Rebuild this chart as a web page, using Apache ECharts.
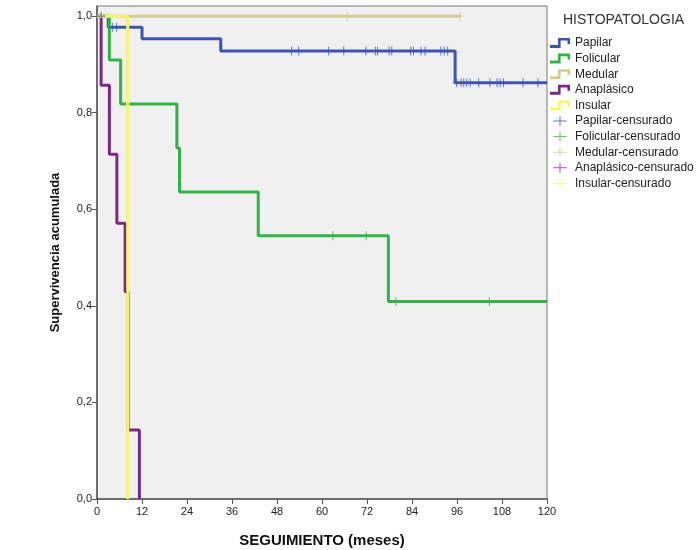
<!DOCTYPE html>
<html>
<head>
<meta charset="utf-8">
<script src="https://cdn.jsdelivr.net/npm/echarts@6/dist/echarts.min.js"></script>
<style>
  html, body { margin: 0; padding: 0; background: #fff; }
  #chart { width: 698px; height: 550px; }
</style>
</head>
<body>
<div id="chart"></div>
<script>
// Kaplan-Meier steps: [meses, supervivencia tras el evento]
var papilar = [[0, 1], [3, 0.977], [12, 0.953], [33, 0.928], [95.5, 0.862], [120, 0.862]];
var folicular = [[0, 1], [3.3, 0.909], [6.3, 0.818], [21.3, 0.727], [22, 0.636], [43, 0.545], [77.7, 0.409], [120, 0.409]];
var medular = [[0, 1], [97, 1]];
var anaplasico = [[0, 1], [1.1, 0.857], [3.3, 0.714], [5.3, 0.571], [7.5, 0.429], [8.3, 0.143], [11.3, 0]];
var insular = [[0, 1], [8.2, 1], [8.2, 0]];

// censored cases (months)
var papilarCens = [1.1, 4.1, 5.2, 51.9, 53.8, 61.8, 65.8, 71.7, 74.2, 74.8, 77.9, 78.6, 83.7, 84.4,
    86.4, 87.5, 91.7, 92.6, 93.5, 95.9, 97.1, 97.8, 98.6, 99.5, 101.8, 104.8, 106.7, 107.5, 108.4, 113.6, 117.6];
var folicularCens = [62.9, 71.8, 79.7, 104.6];
var medularCens = [66.7, 96.8];
var anaplasicoCens = [];
var insularCens = [];

var yTicks = [0, 0.2, 0.4, 0.6, 0.8, 1.0];
var xTicks = [0, 12, 24, 36, 48, 60, 72, 84, 96, 108, 120];

var colors = {
    papilar: '#3a55b4',
    folicular: '#2fb545',
    medular: '#d5cb8f',
    anaplasico: '#7c2886',
    insular: '#f7f765'
};

//value of the step curve at time t
function survivalAt(steps, t) {
    var s = steps[0][1];
    for (var i = 0; i < steps.length; i++) {
        if (steps[i][0] <= t) s = steps[i][1];
    }
    return s;
}

function censPoints(steps, times) {
    return times.map(function (t) { return [t, survivalAt(steps, t)]; });
}

var stepIcon = 'path://M0,7L8,7L8,0L20,0L20,6L17.5,6L17.5,2.6L10.6,2.6L10.6,10L0,10Z';
var crossIcon = 'path://M9.4,0L10.6,0L10.6,12L9.4,12ZM2,5.4L18,5.4L18,6.6L2,6.6Z';
var censSymbol = 'path://M4.4,0h1.2v10h-1.2zM0,4.4h10v1.2h-10z';

function lineSeries(name, data, color) {
    return {
        name: name,
        type: 'line',
        step: 'end',
        data: data,
        showSymbol: false,
        symbol: 'none',
        lineStyle: { color: color, width: 3 },
        itemStyle: { color: color },
        silent: true
    };
}

function censSeries(name, data, color) {
    return {
        name: name,
        type: 'scatter',
        data: data,
        symbol: censSymbol,
        symbolSize: [8, 9],
        itemStyle: { color: color },
        silent: true,
        z: 3
    };
}

var names = ['Papilar', 'Folicular', 'Medular', 'Anaplásico', 'Insular'];
var keys = ['papilar', 'folicular', 'medular', 'anaplasico', 'insular'];
var legendData = [];
names.forEach(function (n, i) {
    legendData.push({ name: n, icon: stepIcon, itemStyle: { color: colors[keys[i]] } });
});
names.forEach(function (n, i) {
    legendData.push({ name: n + '-censurado', icon: crossIcon, itemStyle: { color: colors[keys[i]] } });
});

var option = {
    animation: false,
    backgroundColor: '#ffffff',
    textStyle: { fontFamily: 'Liberation Sans, Arial, sans-serif' },
    title: {
        text: 'HISTOPATOLOGIA',
        left: 563,
        top: 13,
        padding: 0,
        textStyle: { fontSize: 14, fontWeight: 'normal', color: '#333' }
    },
    legend: {
        orient: 'vertical',
        left: 550,
        top: 36,
        padding: 0,
        itemWidth: 20,
        itemHeight: 10,
        itemGap: 1.6,
        selectedMode: false,
        data: legendData,
        textStyle: { fontSize: 12, color: '#222', lineHeight: 14 }
    },
    grid: {
        left: 97,
        right: 151,
        top: 6,
        bottom: 51,
        outerBoundsMode: 'none',
        show: true,
        backgroundColor: '#f0f0f0',
        borderColor: '#777',
        borderWidth: 1
    },
    xAxis: {
        type: 'value',
        min: 0,
        max: 120,
        interval: 12,
        name: 'SEGUIMIENTO (meses)',
        nameLocation: 'middle',
        nameGap: 34,
        nameTextStyle: { fontSize: 15, fontWeight: 'bold', color: '#111' },
        axisLine: { lineStyle: { color: '#555', width: 1.5 } },
        axisTick: { show: true, length: 5, lineStyle: { color: '#555' }, customValues: xTicks },
        axisLabel: { fontSize: 11, color: '#222', margin: 7, customValues: xTicks },
        splitLine: { show: false }
    },
    yAxis: {
        type: 'value',
        min: 0,
        max: 1.021,
        name: 'Supervivencia acumulada',
        nameLocation: 'middle',
        nameGap: 35,
        nameRotate: 90,
        nameTextStyle: { fontSize: 13, fontWeight: 'bold', color: '#111' },
        axisLine: { show: true, lineStyle: { color: '#555', width: 1.5 } },
        axisTick: { show: true, length: 5, lineStyle: { color: '#555' }, customValues: yTicks },
        axisLabel: {
            fontSize: 11, color: '#222', margin: 5, customValues: yTicks,
            formatter: function (v) { return v.toFixed(1).replace('.', ','); }
        },
        splitLine: { show: false }
    },
    series: [
        lineSeries('Papilar', papilar, colors.papilar),
        lineSeries('Folicular', folicular, colors.folicular),
        lineSeries('Medular', medular, colors.medular),
        lineSeries('Anaplásico', anaplasico, colors.anaplasico),
        lineSeries('Insular', insular, colors.insular),
        censSeries('Papilar-censurado', censPoints(papilar, papilarCens), colors.papilar),
        censSeries('Folicular-censurado', censPoints(folicular, folicularCens), colors.folicular),
        censSeries('Medular-censurado', censPoints(medular, medularCens), colors.medular),
        censSeries('Anaplásico-censurado', censPoints(anaplasico, anaplasicoCens), colors.anaplasico),
        censSeries('Insular-censurado', censPoints(insular, insularCens), colors.insular)
    ]
};

var myChart = echarts.init(document.getElementById('chart'));
myChart.setOption(option);
</script>
</body>
</html>
